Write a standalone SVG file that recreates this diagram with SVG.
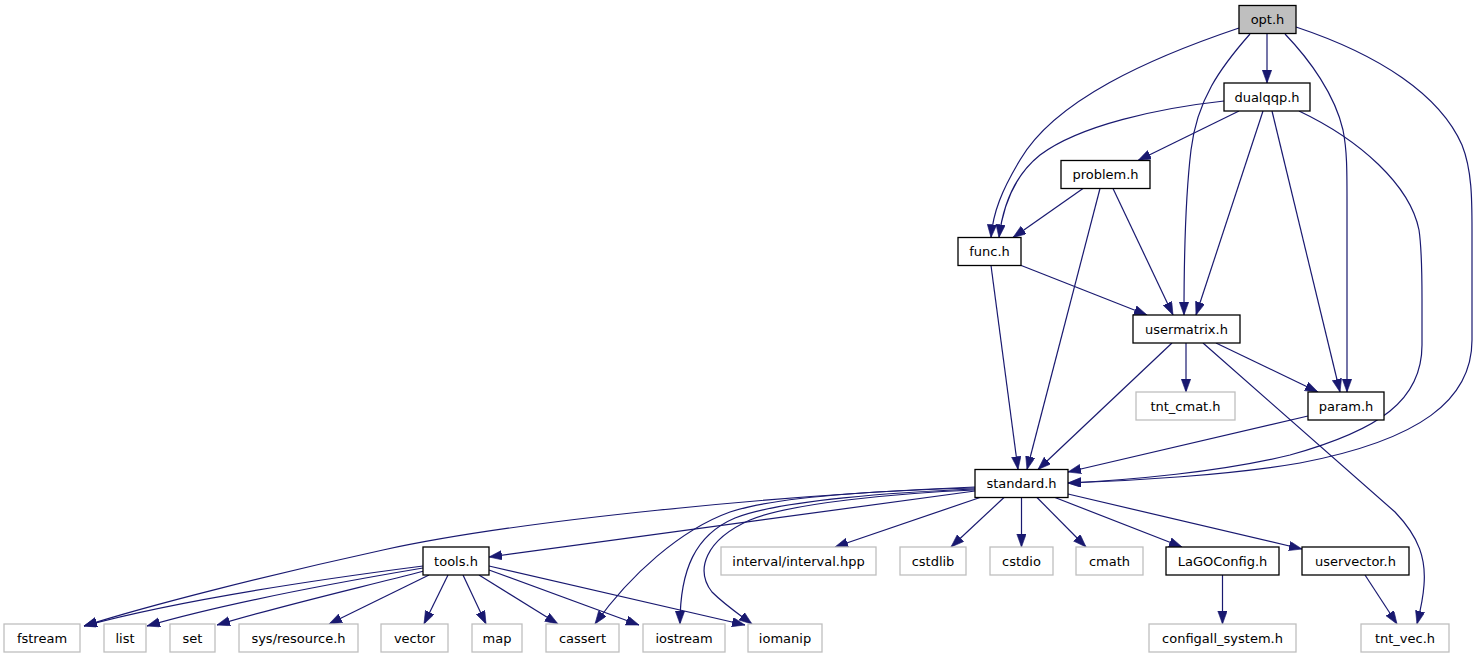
<svg xmlns="http://www.w3.org/2000/svg" width="1477" height="659" viewBox="0 0 1477 659">
<style>
.n rect{fill:#fff;stroke:#000;stroke-width:1.3}
.g rect{fill:#fff;stroke:#bfbfbf;stroke-width:1.3}
.cur rect{fill:#bfbfbf;stroke:#000;stroke-width:1.3}
text{font-family:"DejaVu Sans","Liberation Sans",sans-serif;font-size:13px;fill:#000;text-anchor:middle}
.e path{fill:none;stroke:#191970;stroke-width:1.2;marker-end:url(#ah)}
</style>
<defs>
<marker id="ah" markerUnits="userSpaceOnUse" markerWidth="14" markerHeight="10" refX="13" refY="4.7" orient="auto" viewBox="0 0 14 10">
<path d="M0,0 L13,4.7 L0,9.4 z" fill="#191970" stroke="#191970" stroke-width="0.6"/>
</marker>
</defs>
<g class="e" id="edges">
<path d="M1267,33.5 L1267,83"/>
<path d="M1239,28 C1150,58 1055,100 1020,160 C1002,190 993,212 991,237.5"/>
<path d="M1224,101 C1160,108 1080,125 1040,155 C1015,175 1003,205 999,237.5"/>
<path d="M1250,34 C1220,68 1197,100 1191,150 C1185,200 1184,270 1184,315"/>
<path d="M1285,34 C1310,60 1335,95 1343,130 C1347,150 1347,170 1347,200 L1347,392"/>
<path d="M1296,27 C1380,55 1440,95 1462,145 C1472,170 1472,200 1472,230 L1472,340 C1472,400 1420,440 1300,463 C1230,475 1130,481 1068,483"/>
<path d="M1299,111 C1360,140 1410,185 1419,230 C1422,250 1422,280 1422,300 L1422,345 C1422,400 1380,430 1290,455 C1220,472 1130,480 1068,483"/>
<path d="M1239,111 L1138,160.5"/>
<path d="M1263,111 L1196,315"/>
<path d="M1272,111 L1340,392"/>
<path d="M1083,188.5 L1013,237.5"/>
<path d="M1100,188.5 L1027,469.5"/>
<path d="M1113,188.5 L1173,315"/>
<path d="M1020,265 L1147,315"/>
<path d="M991,265.5 L1018,469.5"/>
<path d="M1172,343 L1038,469.5"/>
<path d="M1186,343 L1186,392"/>
<path d="M1216,343 L1318,392"/>
<path d="M1203,343 L1395,512 C1420,538 1426,560 1424,585 C1423,600 1420,612 1417,624"/>
<path d="M1308,416 L1068,472"/>
<path d="M975,491 L489,557"/>
<path d="M975,487 C780,495 520,520 383,550 C273,574 150,605 84,626"/>
<path d="M980,497.5 L835,547"/>
<path d="M1004,497.5 L951,547"/>
<path d="M1021.5,497.5 L1021.5,547"/>
<path d="M1037,497.5 L1086,547"/>
<path d="M1055,497.5 L1182,547"/>
<path d="M1068,494 L1302,549"/>
<path d="M975,488 C900,490 780,495 730,512 C680,530 630,575 595,624"/>
<path d="M975,489 C900,492 780,500 735,518 C695,535 680,570 680,624"/>
<path d="M975,490 C900,493 790,503 750,520 C705,540 695,570 712,592 C725,605 740,615 752,624"/>
<path d="M1222.5,575 L1222.5,624"/>
<path d="M1365,575 L1397,624"/>
<path d="M423,566 C330,578 180,600 84,626"/>
<path d="M423,568 C340,582 230,602 147,626"/>
<path d="M424,571 C350,590 280,606 217,625"/>
<path d="M429,575 L329,624"/>
<path d="M448,575 L424,624"/>
<path d="M463,575 L486,624"/>
<path d="M479,575 L558,624"/>
<path d="M489,570 L639,625"/>
<path d="M489,566 L745,625"/>
</g>
<g id="opt_h" class="cur"><rect x="1239" y="5.5" width="57" height="28"/><text x="1267.5" y="24">opt.h</text></g>
<g id="dualqqp_h" class="n"><rect x="1224" y="83" width="86" height="28"/><text x="1267" y="101.5">dualqqp.h</text></g>
<g id="problem_h" class="n"><rect x="1061" y="160.5" width="89" height="28"/><text x="1105.5" y="179">problem.h</text></g>
<g id="func_h" class="n"><rect x="958" y="237.5" width="63" height="28"/><text x="989.5" y="256">func.h</text></g>
<g id="usermatrix_h" class="n"><rect x="1133" y="315" width="107" height="28"/><text x="1186.5" y="333.5">usermatrix.h</text></g>
<g id="tnt_cmat_h" class="g"><rect x="1136" y="392" width="99" height="28"/><text x="1185.5" y="410.5">tnt_cmat.h</text></g>
<g id="param_h" class="n"><rect x="1308" y="392" width="76" height="28"/><text x="1346" y="410.5">param.h</text></g>
<g id="standard_h" class="n"><rect x="975" y="469.5" width="93" height="28"/><text x="1021.5" y="488">standard.h</text></g>
<g id="tools_h" class="n"><rect x="423" y="547" width="66" height="28"/><text x="456" y="565.5">tools.h</text></g>
<g id="interval_hpp" class="g"><rect x="721" y="547" width="155" height="28"/><text x="798.5" y="565.5">interval/interval.hpp</text></g>
<g id="cstdlib" class="g"><rect x="900" y="547" width="66" height="28"/><text x="933" y="565.5">cstdlib</text></g>
<g id="cstdio" class="g"><rect x="990" y="547" width="63" height="28"/><text x="1021.5" y="565.5">cstdio</text></g>
<g id="cmath" class="g"><rect x="1076" y="547" width="67" height="28"/><text x="1109.5" y="565.5">cmath</text></g>
<g id="LaGOConfig_h" class="n"><rect x="1166" y="547" width="113" height="28"/><text x="1222.5" y="565.5">LaGOConfig.h</text></g>
<g id="uservector_h" class="n"><rect x="1302" y="547" width="107" height="28"/><text x="1355.5" y="565.5">uservector.h</text></g>
<g id="fstream" class="g"><rect x="4" y="624" width="76" height="28"/><text x="42" y="642.5">fstream</text></g>
<g id="list" class="g"><rect x="104" y="624" width="42" height="28"/><text x="125" y="642.5">list</text></g>
<g id="set" class="g"><rect x="170" y="624" width="45" height="28"/><text x="192.5" y="642.5">set</text></g>
<g id="sys_resource_h" class="g"><rect x="239" y="624" width="119" height="28"/><text x="298.5" y="642.5">sys/resource.h</text></g>
<g id="vector" class="g"><rect x="381" y="624" width="67" height="28"/><text x="414.5" y="642.5">vector</text></g>
<g id="map" class="g"><rect x="472" y="624" width="50" height="28"/><text x="497" y="642.5">map</text></g>
<g id="cassert" class="g"><rect x="546" y="624" width="73" height="28"/><text x="582.5" y="642.5">cassert</text></g>
<g id="iostream" class="g"><rect x="643" y="624" width="82" height="28"/><text x="684" y="642.5">iostream</text></g>
<g id="iomanip" class="g"><rect x="748" y="624" width="74" height="28"/><text x="785" y="642.5">iomanip</text></g>
<g id="configall_system_h" class="g"><rect x="1149" y="624" width="147" height="28"/><text x="1222.5" y="642.5">configall_system.h</text></g>
<g id="tnt_vec_h" class="g"><rect x="1361" y="624" width="88" height="28"/><text x="1405" y="642.5">tnt_vec.h</text></g>
</svg>
